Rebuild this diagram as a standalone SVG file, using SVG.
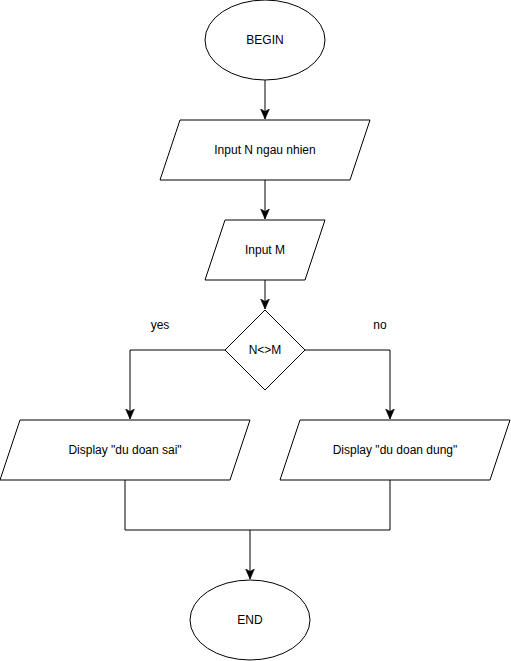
<svg xmlns="http://www.w3.org/2000/svg" width="511" height="661" viewBox="0 0 511 661">
<style>
.shape{fill:#ffffff;stroke:#000000;stroke-width:1}
.edge{fill:none;stroke:#000000;stroke-width:1}
text{font-family:"Liberation Sans",Arial,sans-serif;font-size:12px;fill:#000000;text-anchor:middle;dominant-baseline:central}
</style>
<defs>
<marker id="arrow" markerUnits="userSpaceOnUse" markerWidth="10" markerHeight="10" viewBox="0 0 8 7" refX="8" refY="3.5" orient="auto">
<path d="M0,0 L8,3.5 L0,7 L2,3.5 Z" fill="#000000" stroke="#000000" stroke-width="0.5"/>
</marker>
</defs>
<rect width="511" height="661" fill="#ffffff"/>
<g id="connectors">
<path class="edge" d="M265,80 L265,119" marker-end="url(#arrow)"/>
<path class="edge" d="M265,180 L265,219" marker-end="url(#arrow)"/>
<path class="edge" d="M265,280 L265,309" marker-end="url(#arrow)"/>
<path class="edge" d="M225,350 L130,350 L130,419" marker-end="url(#arrow)"/>
<path class="edge" d="M305,350 L390,350 L390,419" marker-end="url(#arrow)"/>
<path class="edge" d="M125,480 L125,530 L390,530 L390,480"/>
<path class="edge" d="M250,530 L250,579" marker-end="url(#arrow)"/>
<text x="160" y="325">yes</text>
<text x="380" y="325">no</text>
</g>
<g id="begin">
<ellipse class="shape" cx="265" cy="40" rx="60" ry="40"/>
<text x="265" y="40">BEGIN</text>
</g>
<g id="inputN">
<polygon class="shape" points="180,120 370,120 350,180 160,180"/>
<text x="265" y="150">Input N ngau nhien</text>
</g>
<g id="inputM">
<polygon class="shape" points="225,220 325,220 305,280 205,280"/>
<text x="265" y="250">Input M</text>
</g>
<g id="decision">
<polygon class="shape" points="265,310 305,350 265,390 225,350"/>
<text x="265" y="350">N&lt;&gt;M</text>
</g>
<g id="displaySai">
<polygon class="shape" points="20,420 250,420 230,480 0,480"/>
<text x="125" y="450">Display "du doan sai"</text>
</g>
<g id="displayDung">
<polygon class="shape" points="300,420 510,420 490,480 280,480"/>
<text x="395" y="450">Display "du doan dung"</text>
</g>
<g id="end">
<ellipse class="shape" cx="250" cy="620" rx="60" ry="40"/>
<text x="250" y="620">END</text>
</g>
</svg>
